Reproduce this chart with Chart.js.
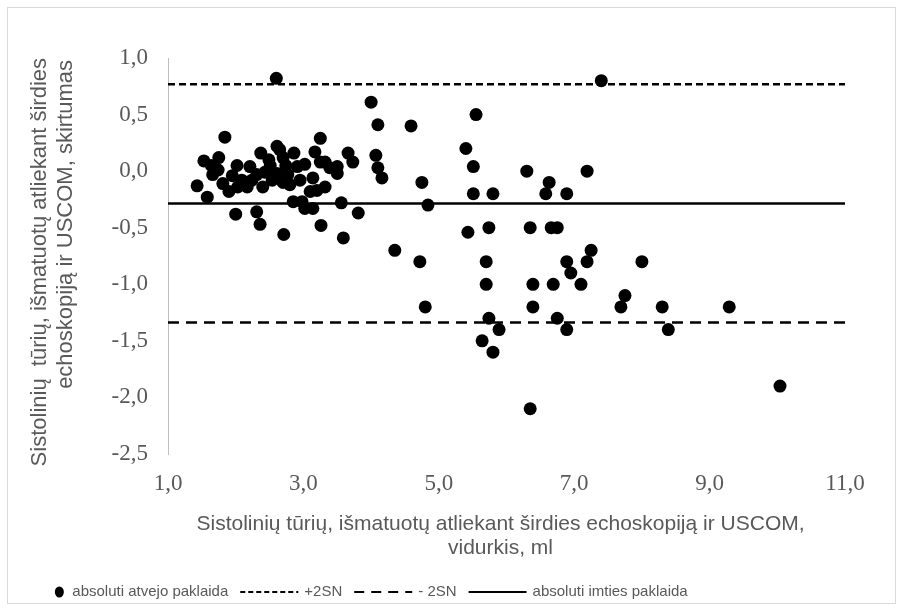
<!DOCTYPE html>
<html lang="lt">
<head>
<meta charset="utf-8">
<title>Sistolinių tūrių skirtumas</title>
<script src="https://cdn.jsdelivr.net/npm/chart.js@4.4.1/dist/chart.umd.min.js"></script>
<style>
html, body { margin: 0; padding: 0; background: #fff; }
#box { position: relative; width: 903px; height: 610px; }
</style>
</head>
<body>
<div id="box"><canvas id="chart" width="903" height="610"></canvas></div>
<script>
// Mean of the two methods (ml) for each case
const meanX = [
  1.43, 1.53, 1.58, 1.66, 1.64, 1.74, 1.75, 1.84, 1.81, 1.90,
  1.95, 2.02, 2.03, 2.00, 2.09, 2.17, 2.21, 2.24, 2.31, 2.40,
  2.31, 2.36, 2.37, 2.43, 2.49, 2.51, 2.54, 2.60, 2.61, 2.61,
  2.65, 2.70, 2.70, 2.71, 2.74, 2.77, 2.80, 2.86, 2.91, 2.85,
  2.95, 2.98, 3.02, 3.02, 3.10, 3.14, 3.14, 3.17, 3.20, 3.25,
  3.25, 3.26, 3.32, 3.32, 3.39, 3.50, 3.50, 3.56, 3.59, 3.66,
  3.73, 3.81, 4.00, 4.07, 4.10, 4.10, 4.16,
  4.35, 4.59, 4.72, 4.75, 4.80, 4.84, 5.40, 5.43, 5.51, 5.51,
  5.55, 5.64, 5.70, 5.70, 5.74, 5.74, 5.80, 5.80, 5.89, 6.30,
  6.35, 6.35, 6.39, 6.39, 6.58, 6.63, 6.66, 6.69, 6.75, 6.75,
  6.89, 6.89, 6.89, 6.95, 7.10, 7.19, 7.19, 7.25, 7.40, 7.69,
  7.75, 8.00, 8.30, 8.39, 9.29, 10.04
];
// Difference between the two methods for each case
const diffY = [
  -0.13, 0.09, -0.23, -0.03, 0.05, 0.01, 0.12, 0.30, -0.11, -0.18,
  -0.04, 0.05, -0.14, -0.38, -0.08, -0.14, 0.04, -0.08, -0.03, -0.14,
  -0.36, -0.47, 0.16, -0.01, 0.10, 0.05, -0.08, 0.82, 0.22, -0.02,
  0.19, 0.12, -0.10, -0.56, 0.05, -0.03, -0.12, 0.16, 0.04, -0.27,
  -0.08, -0.27, 0.06, -0.33, -0.18, -0.06, -0.33, 0.17, -0.17, 0.29,
  0.08, -0.48, -0.14, 0.08, 0.03, 0.04, -0.02, -0.28, -0.59, 0.16,
  0.08, -0.37, 0.61, 0.14, 0.41, 0.03, -0.06,
  -0.7, 0.4, -0.8, -0.1, -1.2, -0.3, 0.2, -0.54, 0.04, -0.2,
  0.5, -1.5, -0.8, -1.0, -0.5, -1.3, -0.2, -1.6, -1.4, 0.0,
  -0.5, -2.1, -1.0, -1.2, -0.2, -0.1, -0.5, -1.0, -0.5, -1.3,
  -0.2, -0.8, -1.4, -0.9, -1.0, 0.0, -0.8, -0.7, 0.8, -1.2,
  -1.1, -0.8, -1.2, -1.4, -1.2, -1.9
];
// Mean difference and limits of agreement (mean ± 2 SD)
const meanDiff = -0.285;
const upper2SD = 0.767;
const lower2SD = -1.337;

const xTickValues = [1, 3, 5, 7, 9, 11];
const yTickValues = [1.0, 0.5, 0.0, -0.5, -1.0, -1.5, -2.0, -2.5];
const seriesNames = ['absoluti atvejo paklaida', '+2SN', '- 2SN', 'absoluti imties paklaida'];
const xTitleLines = ['Sistolinių tūrių, išmatuotų atliekant širdies echoskopiją ir USCOM,', 'vidurkis, ml'];
const yTitleLines = ['Sistolinių  tūrių, išmatuotų atliekant širdies', 'echoskopiją ir USCOM, skirtumas'];

const GREY = '#595959';
const SANS = '"Liberation Sans", Arial, sans-serif';
const NARROW = '"Liberation Sans Narrow", "Arial Narrow", "Liberation Sans", sans-serif';
const SERIF = '"Liberation Serif", "Times New Roman", serif';
const fmt = v => Number(v).toFixed(1).replace('.', ',');

const xMin = xTickValues[0];
const xMax = xTickValues[xTickValues.length - 1];
const hLine = y => [{ x: xMin, y }, { x: xMax, y }];

// Axis titles, legend row and outer frame
const decorations = {
  id: 'decorations',
  afterDraw(chart) {
    const { ctx, chartArea } = chart;
    ctx.save();

    ctx.strokeStyle = '#d9d9d9';
    ctx.lineWidth = 1;
    ctx.strokeRect(7.5, 7.5, chart.width - 15, chart.height - 14);

    ctx.fillStyle = GREY;
    ctx.textBaseline = 'middle';

    ctx.font = '21px ' + SANS;
    ctx.textAlign = 'center';
    const cx = (chartArea.left + chartArea.right) / 2 - 6;
    xTitleLines.forEach((t, i) => ctx.fillText(t, cx, chartArea.bottom + 70 + i * 24));

    ctx.font = '22px ' + SANS;
    ctx.save();
    ctx.translate(40, chartArea.top);
    ctx.rotate(-Math.PI / 2);
    ctx.textAlign = 'right';
    yTitleLines.forEach((t, i) => ctx.fillText(t, -i * 2, i * 26));
    ctx.restore();

    // legend
    ctx.font = '15px ' + NARROW;
    const items = chart.data.datasets.map(ds => ({
      ds,
      text: ds.label,
      markW: ds.type === 'line' ? 58 : 14
    }));
    const gapText = 6, gapItem = 12;
    let total = 0;
    items.forEach((it, i) => {
      it.textW = ctx.measureText(it.text).width;
      total += it.markW + gapText + it.textW + (i ? gapItem : 0);
    });
    let x = 370 - total / 2;
    const ly = 592;
    items.forEach(it => {
      ctx.fillStyle = '#000';
      ctx.strokeStyle = '#000';
      if (it.ds.type === 'line') {
        ctx.lineWidth = 2;
        ctx.setLineDash(it.ds.legendDash || []);
        ctx.beginPath();
        ctx.moveTo(x, ly);
        ctx.lineTo(x + it.markW, ly);
        ctx.stroke();
        ctx.setLineDash([]);
      } else {
        ctx.beginPath();
        ctx.ellipse(x + it.markW / 2, ly, 4.5, 5.5, 0, 0, Math.PI * 2);
        ctx.fill();
      }
      x += it.markW + gapText;
      ctx.fillStyle = GREY;
      ctx.textAlign = 'left';
      ctx.fillText(it.text, x, ly);
      x += it.textW + gapItem;
    });

    ctx.restore();
  }
};

new Chart(document.getElementById('chart'), {
  type: 'scatter',
  data: {
    datasets: [
      {
        label: seriesNames[0],
        data: meanX.map((x, i) => ({ x, y: diffY[i] })),
        pointRadius: 6.5,
        pointHoverRadius: 6.5,
        backgroundColor: '#000',
        borderColor: '#000',
        borderWidth: 0,
        order: 0
      },
      {
        type: 'line',
        label: seriesNames[1],
        data: hLine(upper2SD),
        borderColor: '#000',
        borderWidth: 2.5,
        borderDash: [7, 4],
        legendDash: [5, 3],
        pointRadius: 0,
        order: 1
      },
      {
        type: 'line',
        label: seriesNames[2],
        data: hLine(lower2SD),
        borderColor: '#000',
        borderWidth: 2.5,
        borderDash: [11, 7],
        legendDash: [10, 7],
        pointRadius: 0,
        order: 2
      },
      {
        type: 'line',
        label: seriesNames[3],
        data: hLine(meanDiff),
        borderColor: '#000',
        borderWidth: 2.5,
        pointRadius: 0,
        order: 3
      }
    ]
  },
  options: {
    responsive: false,
    devicePixelRatio: 1,
    animation: false,
    events: [],
    layout: { padding: { top: 58, right: 58, left: 0, bottom: 0 } },
    plugins: {
      legend: { display: false },
      tooltip: { enabled: false }
    },
    scales: {
      x: {
        type: 'linear',
        min: xMin,
        max: xMax,
        afterBuildTicks: s => { s.ticks = xTickValues.map(v => ({ value: v })); },
        afterFit: s => { s.height = 156; },
        grid: { display: false, drawTicks: false },
        border: { display: false },
        ticks: {
          callback: v => fmt(v),
          color: GREY,
          font: { family: SERIF, size: 23 },
          padding: 16,
          maxRotation: 0,
          autoSkip: false
        }
      },
      y: {
        type: 'linear',
        min: yTickValues[yTickValues.length - 1],
        max: yTickValues[0],
        afterBuildTicks: s => { s.ticks = yTickValues.map(v => ({ value: v })); },
        afterFit: s => { s.width = 168; },
        grid: { display: false, drawTicks: false },
        border: { display: true, color: '#bfbfbf', width: 1 },
        ticks: {
          callback: v => fmt(v),
          color: GREY,
          font: { family: SERIF, size: 23 },
          padding: 20,
          autoSkip: false
        }
      }
    }
  },
  plugins: [decorations]
});
</script>
</body>
</html>
